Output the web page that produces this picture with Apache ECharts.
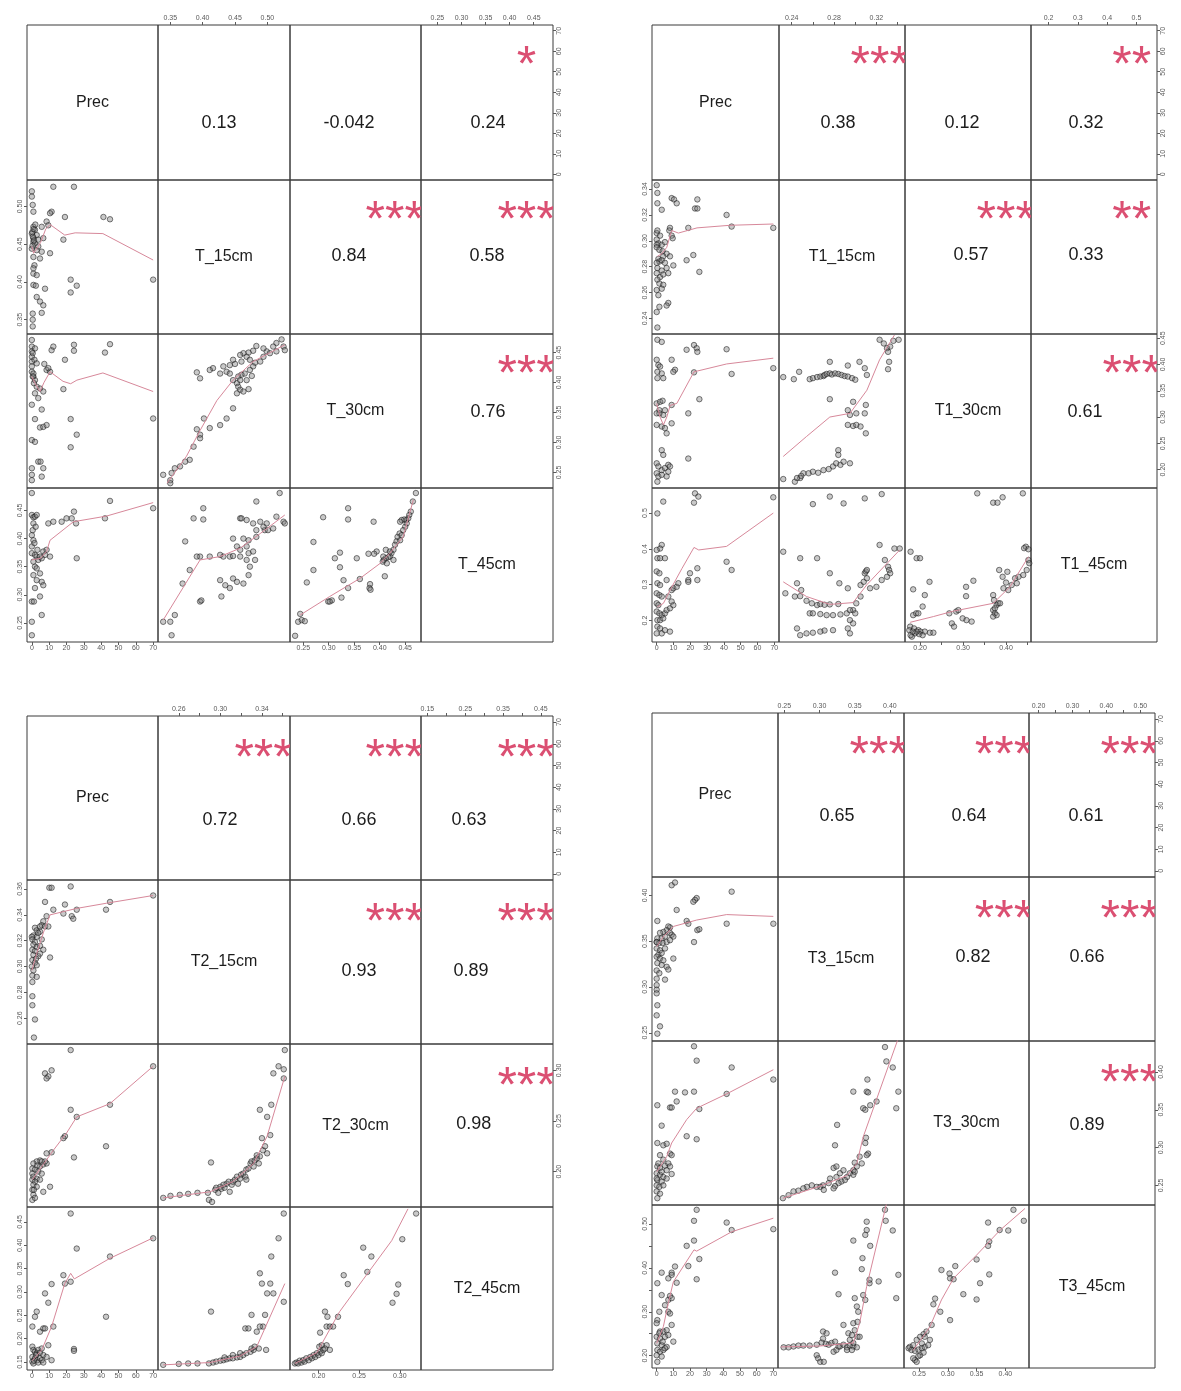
<!DOCTYPE html>
<html>
<head>
<meta charset="utf-8">
<script src="https://cdn.jsdelivr.net/npm/echarts@6/dist/echarts.min.js"></script>
<style>
html,body{margin:0;padding:0;background:#ffffff}
#chart{width:1181px;height:1391px}
</style>
</head>
<body>
<div id="chart"></div>
<script>
// ---------- Panel 1: Prec / T_15cm / T_30cm / T_45cm ----------
const P1_NAMES = ['Prec', 'T_15cm', 'T_30cm', 'T_45cm'];
const P1_RANGE = [[-2.8, 72.8], [0.331, 0.535], [0.224, 0.481], [0.216, 0.490]];
const P1_TICKS = [[0,10,20,30,40,50,60,70], [0.35,0.40,0.45,0.50], [0.25,0.30,0.35,0.40,0.45], [0.25,0.30,0.35,0.40,0.45]];
const P1_HLAB = P1_TICKS;
const P1_VLAB = P1_TICKS;
const P1_DEC = [0, 2, 2, 2];
// upper cells in order (1,2) (1,3) (1,4) (2,3) (2,4) (3,4)
const P1_R = [0.13, -0.042, 0.24, 0.84, 0.58, 0.76];
const P1_STARS = ['', '', '*', '***', '***', '***'];

const P1_21 = [[0,0.520],[0,0.513],[0.5,0.502],[0.9,0.493],[12.4,0.526],[24.3,0.526],[11.4,0.493],[10.5,0.491],[8.5,0.480],[0.9,0.473],[1.8,0.469],[0,0.464],[2.8,0.462],[0.9,0.458],[0.9,0.453],[1.8,0.451],[3.7,0.456],[6.6,0.458],[0,0.444],[2.8,0.442],[5.7,0.440],[0.9,0.433],[4.7,0.431],[10.5,0.438],[19.1,0.486],[18.2,0.456],[41.3,0.486],[45.1,0.483],[0.9,0.411],[2.8,0.409],[0.9,0.396],[2.3,0.395],[7.6,0.391],[2.8,0.380],[4.7,0.374],[6.6,0.369],[5.7,0.359],[0.5,0.358],[0.5,0.350],[0.5,0.341],[22.4,0.403],[25.9,0.395],[22.4,0.386],[70,0.403],[9.5,0.475],[5.7,0.473],[3.7,0.447],[1.5,0.422],[0.9,0.418],[0.3,0.466],[0.6,0.460],[1.2,0.455],[0.4,0.448],[1,0.470],[2,0.476]];
const P1_21_FIT = [[0,0.447],[1,0.438],[3,0.445],[5,0.452],[8,0.470],[10.5,0.476],[19,0.462],[25,0.465],[41,0.464],[70,0.429]];

const P1_31 = [[0,0.471],[0,0.460],[0,0.452],[0,0.443],[0,0.435],[0,0.427],[0,0.418],[0.9,0.410],[1.8,0.457],[0.5,0.449],[1.5,0.438],[2.8,0.432],[7.2,0.431],[8.5,0.421],[10.5,0.418],[11.4,0.454],[12.4,0.460],[24.3,0.463],[24.3,0.453],[42.2,0.450],[45.1,0.464],[19.1,0.438],[18.2,0.389],[70,0.340],[0,0.363],[1.8,0.382],[2.8,0.393],[4.7,0.390],[6.6,0.385],[3.7,0.374],[5.7,0.355],[4.7,0.325],[6.6,0.326],[8.5,0.329],[1.8,0.339],[0,0.304],[1.8,0.301],[22.4,0.339],[25.9,0.313],[22.4,0.292],[3.7,0.268],[5,0.268],[6.6,0.257],[0,0.257],[0,0.246],[0,0.237],[5.7,0.243],[1.8,0.404],[1.2,0.399],[0.5,0.410],[0.9,0.415],[9.5,0.424]];
const P1_31_FIT = [[0,0.410],[2,0.398],[4.7,0.385],[7,0.400],[10.5,0.418],[18,0.402],[22.4,0.398],[26,0.404],[41,0.416],[70,0.385]];

const P1_41 = [[0,0.481],[0,0.442],[0.9,0.438],[1.8,0.439],[2.8,0.442],[0,0.406],[0.9,0.397],[0,0.386],[0,0.374],[1.8,0.371],[2.8,0.368],[3.7,0.362],[5.7,0.365],[7.6,0.371],[10.5,0.368],[0.9,0.359],[1.8,0.350],[2.8,0.347],[4.7,0.338],[0.9,0.335],[2.8,0.326],[5.7,0.323],[6.6,0.317],[1.8,0.312],[4.7,0.297],[0,0.288],[1.2,0.288],[5.7,0.264],[0,0.252],[0,0.228],[9.5,0.427],[12.4,0.430],[17.2,0.430],[20,0.436],[23,0.436],[24.3,0.448],[25.5,0.427],[25.9,0.365],[42.2,0.436],[45.1,0.467],[70,0.454],[1.5,0.392],[3.2,0.380],[6.6,0.377],[8.5,0.380],[4.7,0.368],[0.9,0.427],[0.5,0.415],[2.2,0.421]];
const P1_41_FIT = [[0,0.362],[5,0.365],[8.5,0.377],[10.5,0.397],[24,0.430],[43,0.440],[70,0.464]];

const P1_32 = [[0.522,0.472],[0.514,0.466],[0.525,0.460],[0.527,0.454],[0.509,0.460],[0.499,0.452],[0.494,0.457],[0.483,0.461],[0.478,0.453],[0.471,0.450],[0.463,0.449],[0.458,0.446],[0.468,0.443],[0.473,0.438],[0.481,0.433],[0.489,0.435],[0.478,0.427],[0.473,0.421],[0.465,0.415],[0.460,0.413],[0.455,0.410],[0.450,0.431],[0.442,0.429],[0.432,0.427],[0.437,0.418],[0.427,0.415],[0.416,0.424],[0.411,0.421],[0.396,0.407],[0.391,0.417],[0.453,0.399],[0.455,0.393],[0.458,0.388],[0.463,0.385],[0.453,0.382],[0.471,0.389],[0.447,0.357],[0.437,0.340],[0.427,0.329],[0.411,0.324],[0.402,0.340],[0.391,0.322],[0.396,0.313],[0.396,0.307],[0.386,0.293],[0.380,0.271],[0.373,0.268],[0.365,0.260],[0.357,0.257],[0.352,0.249],[0.350,0.237],[0.339,0.246],[0.350,0.232],[0.468,0.404],[0.476,0.411],[0.442,0.415],[0.447,0.404],[0.458,0.404],[0.460,0.435],[0.447,0.438],[0.494,0.443],[0.504,0.449],[0.514,0.452]];
const P1_32_FIT = [[0.345,0.232],[0.375,0.277],[0.396,0.320],[0.422,0.370],[0.447,0.404],[0.478,0.435],[0.527,0.463]];

const P1_42 = [[0.519,0.481],[0.483,0.466],[0.496,0.415],[0.494,0.421],[0.483,0.415],[0.468,0.433],[0.458,0.436],[0.460,0.436],[0.478,0.427],[0.489,0.430],[0.499,0.427],[0.509,0.418],[0.525,0.430],[0.527,0.427],[0.514,0.439],[0.386,0.436],[0.401,0.454],[0.401,0.434],[0.373,0.395],[0.396,0.368],[0.411,0.368],[0.432,0.368],[0.442,0.368],[0.447,0.369],[0.458,0.380],[0.468,0.386],[0.471,0.397],[0.453,0.386],[0.458,0.368],[0.468,0.362],[0.481,0.362],[0.473,0.350],[0.471,0.335],[0.463,0.320],[0.453,0.323],[0.447,0.329],[0.427,0.326],[0.435,0.317],[0.442,0.312],[0.429,0.297],[0.380,0.344],[0.369,0.320],[0.396,0.288],[0.398,0.290],[0.339,0.252],[0.350,0.252],[0.357,0.264],[0.352,0.228],[0.391,0.368],[0.427,0.371],[0.447,0.400],[0.463,0.400],[0.471,0.374],[0.478,0.377],[0.483,0.403],[0.501,0.415]];
const P1_42_FIT = [[0.339,0.255],[0.396,0.362],[0.427,0.368],[0.458,0.383],[0.489,0.409],[0.527,0.442]];

const P1_43 = [[0.471,0.481],[0.465,0.466],[0.461,0.448],[0.458,0.442],[0.456,0.436],[0.452,0.433],[0.448,0.434],[0.443,0.433],[0.440,0.430],[0.453,0.427],[0.450,0.421],[0.446,0.415],[0.439,0.409],[0.435,0.403],[0.433,0.395],[0.430,0.389],[0.427,0.380],[0.423,0.374],[0.420,0.368],[0.417,0.367],[0.412,0.365],[0.408,0.362],[0.406,0.359],[0.410,0.333],[0.394,0.377],[0.389,0.373],[0.378,0.373],[0.355,0.365],[0.338,0.454],[0.338,0.434],[0.289,0.438],[0.388,0.430],[0.270,0.394],[0.322,0.375],[0.312,0.365],[0.322,0.349],[0.270,0.344],[0.257,0.322],[0.329,0.326],[0.361,0.328],[0.381,0.319],[0.380,0.312],[0.382,0.309],[0.338,0.312],[0.306,0.290],[0.299,0.288],[0.302,0.288],[0.325,0.295],[0.244,0.266],[0.240,0.252],[0.247,0.255],[0.253,0.253],[0.234,0.227],[0.412,0.380],[0.420,0.377],[0.427,0.362],[0.407,0.368],[0.414,0.356],[0.440,0.397],[0.443,0.406]];
const P1_43_FIT = [[0.244,0.264],[0.302,0.297],[0.361,0.329],[0.401,0.356],[0.420,0.374],[0.446,0.403],[0.466,0.469]];

// ---------- Panel 2: Prec / T1_15cm / T1_30cm / T1_45cm ----------
const P2_NAMES = ['Prec', 'T1_15cm', 'T1_30cm', 'T1_45cm'];
const P2_RANGE = [[-2.8, 72.8], [0.228, 0.347], [0.165, 0.458], [0.140, 0.570]];
const P2_TICKS = [[0,10,20,30,40,50,60,70], [0.24,0.26,0.28,0.30,0.32,0.34], [0.20,0.25,0.30,0.35,0.40,0.45], [0.2,0.3,0.4,0.5]];
const P2_HLAB = [[0,10,20,30,40,50,60,70], [0.24,0.28,0.32], [0.20,0.30,0.40], [0.2,0.3,0.4,0.5]];
const P2_VLAB = [[0,10,20,30,40,50,60,70], [0.24,0.26,0.28,0.30,0.32,0.34], [0.20,0.25,0.30,0.35,0.40,0.45], [0.2,0.3,0.4,0.5]];
const P2_DEC = [0, 2, 2, 1];
const P2_R = [0.38, 0.12, 0.32, 0.57, 0.33, 0.61];
const P2_STARS = ['***', '', '**', '***', '**', '***'];

const P2_21 = [[0,0.343],[0.4,0.337],[0.4,0.329],[3.0,0.324],[8.9,0.333],[10.3,0.332],[11.9,0.329],[22.8,0.325],[24.2,0.325],[24.2,0.332],[41.6,0.320],[44.6,0.311],[69.4,0.310],[18.8,0.310],[7.9,0.310],[7.5,0.308],[8.9,0.304],[9.5,0.302],[0,0.306],[2.0,0.304],[0,0.301],[1.0,0.298],[0,0.297],[3.0,0.297],[4.9,0.299],[0,0.295],[1.6,0.293],[3.5,0.292],[5.9,0.290],[3.9,0.288],[1.0,0.286],[1.6,0.284],[3.0,0.285],[0,0.283],[4.9,0.283],[0.4,0.279],[3.0,0.277],[5.9,0.279],[0,0.275],[2.0,0.272],[3.9,0.274],[6.9,0.275],[0.4,0.270],[1.6,0.267],[3.9,0.266],[3.0,0.263],[0,0.262],[1.0,0.258],[6.9,0.252],[5.9,0.250],[1.6,0.249],[0,0.245],[0.4,0.233],[9.9,0.281],[17.8,0.285],[21.8,0.289],[25.4,0.276],[7.9,0.288],[0.4,0.308]];
const P2_21_FIT = [[0.4,0.288],[3,0.290],[6,0.295],[8.9,0.308],[12.9,0.306],[24,0.310],[43.6,0.312],[69.4,0.313]];

const P2_31 = [[0.4,0.447],[3.0,0.443],[0,0.409],[1.0,0.399],[2.0,0.396],[0.4,0.386],[3.0,0.383],[0.4,0.374],[3.9,0.374],[8.9,0.409],[10.9,0.390],[9.9,0.386],[17.8,0.428],[22.2,0.437],[23.8,0.431],[24.2,0.424],[41.6,0.429],[44.6,0.382],[69.4,0.393],[22.2,0.385],[25.4,0.334],[18.8,0.307],[0,0.326],[2.0,0.329],[3.5,0.331],[8.9,0.323],[1.6,0.313],[3.9,0.304],[0,0.285],[3.0,0.282],[4.9,0.279],[5.9,0.269],[8.9,0.288],[3.0,0.237],[3.9,0.228],[18.8,0.221],[0,0.212],[1.0,0.206],[3.0,0.199],[4.9,0.203],[6.9,0.209],[7.9,0.206],[0,0.193],[1.0,0.187],[3.0,0.190],[5.9,0.187],[6.9,0.196],[0.4,0.177],[1.6,0.307],[0,0.307],[4.9,0.313]];
const P2_31_FIT = [[0,0.326],[2,0.300],[4,0.285],[6,0.300],[8,0.322],[12,0.326],[22.2,0.386],[41.6,0.401],[69.4,0.412]];

const P2_41 = [[0.4,0.499],[3.0,0.411],[2.0,0.401],[0,0.397],[0.4,0.374],[2.0,0.374],[4.9,0.374],[0,0.337],[1.6,0.332],[0.4,0.304],[2.0,0.299],[0,0.276],[1.6,0.271],[3.0,0.267],[0,0.248],[1.0,0.243],[0,0.225],[1.6,0.220],[3.0,0.215],[4.9,0.220],[0.4,0.201],[2.0,0.201],[3.9,0.206],[5.9,0.229],[7.9,0.234],[6.9,0.267],[8.9,0.285],[9.9,0.290],[11.9,0.294],[12.9,0.304],[5.9,0.313],[3.9,0.532],[22.8,0.555],[22.2,0.529],[24.8,0.546],[18.8,0.313],[19.8,0.332],[24.2,0.313],[24.2,0.346],[41.6,0.364],[44.6,0.341],[69.4,0.544],[9.9,0.243],[8.9,0.253],[18.8,0.308],[0.4,0.183],[2.0,0.178],[4.9,0.173],[7.9,0.169],[0,0.164],[3.0,0.164]];
const P2_41_FIT = [[0.4,0.238],[4,0.248],[8,0.285],[15,0.345],[22.2,0.404],[25,0.397],[41.6,0.407],[69.4,0.500]];

const P2_32 = [[0.232,0.376],[0.242,0.372],[0.247,0.386],[0.257,0.372],[0.260,0.374],[0.264,0.376],[0.267,0.377],[0.270,0.378],[0.271,0.380],[0.273,0.382],[0.276,0.383],[0.278,0.381],[0.281,0.383],[0.284,0.382],[0.287,0.380],[0.290,0.378],[0.293,0.377],[0.297,0.374],[0.300,0.371],[0.276,0.405],[0.293,0.398],[0.304,0.405],[0.309,0.393],[0.311,0.380],[0.276,0.334],[0.293,0.313],[0.295,0.304],[0.298,0.329],[0.301,0.307],[0.293,0.285],[0.298,0.283],[0.301,0.285],[0.305,0.282],[0.309,0.307],[0.310,0.323],[0.310,0.269],[0.323,0.447],[0.327,0.440],[0.330,0.431],[0.333,0.434],[0.336,0.445],[0.341,0.447],[0.331,0.424],[0.331,0.391],[0.332,0.405],[0.232,0.182],[0.243,0.177],[0.248,0.184],[0.251,0.193],[0.256,0.193],[0.260,0.196],[0.265,0.194],[0.270,0.199],[0.275,0.201],[0.279,0.206],[0.282,0.212],[0.284,0.228],[0.284,0.237],[0.286,0.209],[0.289,0.215],[0.295,0.212],[0.245,0.184],[0.249,0.188]];
const P2_32_FIT = [[0.232,0.225],[0.254,0.263],[0.276,0.300],[0.295,0.307],[0.311,0.351],[0.323,0.409],[0.337,0.456]];

const P2_42 = [[0.232,0.392],[0.260,0.525],[0.276,0.546],[0.289,0.527],[0.309,0.541],[0.325,0.553],[0.248,0.374],[0.264,0.374],[0.276,0.332],[0.285,0.304],[0.293,0.290],[0.305,0.299],[0.308,0.308],[0.311,0.318],[0.309,0.332],[0.310,0.337],[0.311,0.341],[0.323,0.411],[0.328,0.369],[0.331,0.350],[0.332,0.341],[0.333,0.332],[0.330,0.322],[0.325,0.313],[0.337,0.401],[0.342,0.401],[0.249,0.285],[0.245,0.304],[0.248,0.268],[0.234,0.276],[0.243,0.267],[0.254,0.255],[0.259,0.248],[0.264,0.243],[0.267,0.246],[0.271,0.244],[0.276,0.245],[0.284,0.246],[0.257,0.220],[0.260,0.220],[0.267,0.218],[0.273,0.215],[0.279,0.215],[0.286,0.217],[0.292,0.220],[0.298,0.229],[0.300,0.220],[0.295,0.201],[0.298,0.192],[0.293,0.178],[0.295,0.164],[0.279,0.173],[0.271,0.172],[0.267,0.169],[0.260,0.166],[0.254,0.164],[0.248,0.159],[0.245,0.178],[0.305,0.267],[0.314,0.290],[0.320,0.294],[0.301,0.248],[0.295,0.229]];
const P2_42_FIT = [[0.232,0.308],[0.254,0.267],[0.276,0.245],[0.298,0.250],[0.311,0.300],[0.342,0.397]];

const P2_43 = [[0.333,0.555],[0.370,0.529],[0.380,0.529],[0.392,0.544],[0.439,0.555],[0.446,0.406],[0.442,0.402],[0.452,0.399],[0.452,0.369],[0.454,0.360],[0.448,0.341],[0.440,0.327],[0.429,0.322],[0.421,0.318],[0.425,0.304],[0.413,0.299],[0.405,0.285],[0.400,0.306],[0.384,0.341],[0.403,0.336],[0.392,0.322],[0.394,0.290],[0.324,0.311],[0.307,0.294],[0.307,0.268],[0.222,0.308],[0.178,0.392],[0.192,0.374],[0.200,0.374],[0.184,0.287],[0.211,0.271],[0.206,0.239],[0.184,0.215],[0.191,0.220],[0.196,0.220],[0.268,0.220],[0.284,0.225],[0.289,0.229],[0.299,0.206],[0.308,0.201],[0.320,0.197],[0.274,0.192],[0.279,0.183],[0.370,0.271],[0.372,0.257],[0.378,0.243],[0.382,0.248],[0.386,0.248],[0.370,0.229],[0.374,0.220],[0.378,0.215],[0.370,0.211],[0.374,0.234],[0.177,0.183],[0.186,0.178],[0.196,0.173],[0.201,0.169],[0.211,0.169],[0.223,0.166],[0.231,0.166],[0.188,0.164],[0.198,0.162],[0.206,0.159],[0.181,0.155],[0.192,0.169],[0.175,0.173],[0.178,0.159],[0.183,0.169]];
const P2_43_FIT = [[0.177,0.195],[0.231,0.211],[0.277,0.226],[0.370,0.248],[0.409,0.294],[0.452,0.378]];

// ---------- Panel 3: Prec / T2_15cm / T2_30cm / T2_45cm ----------
const P3_NAMES = ['Prec', 'T2_15cm', 'T2_30cm', 'T2_45cm'];
const P3_RANGE = [[-2.8, 72.8], [0.240, 0.367], [0.165, 0.326], [0.133, 0.482]];
const P3_TICKS = [[0,10,20,30,40,50,60,70], [0.26,0.28,0.30,0.32,0.34,0.36], [0.20,0.25,0.30], [0.15,0.20,0.25,0.30,0.35,0.40,0.45]];
const P3_HLAB = [[0,10,20,30,40,50,60,70], [0.26,0.30,0.34], [0.20,0.25,0.30], [0.15,0.25,0.35,0.45]];
const P3_VLAB = [[0,10,20,30,40,50,60,70], [0.26,0.28,0.30,0.32,0.34,0.36], [0.20,0.25,0.30], [0.15,0.20,0.25,0.30,0.35,0.40,0.45]];
const P3_DEC = [0, 2, 2, 2];
const P3_R = [0.72, 0.66, 0.63, 0.93, 0.89, 0.98];
const P3_STARS = ['***', '***', '***', '***', '***', '***'];

const P3_21 = [[10.1,0.361],[11.4,0.361],[22.4,0.362],[7.6,0.350],[19.1,0.348],[12.4,0.344],[18.2,0.341],[23.0,0.339],[23.9,0.337],[25.9,0.344],[42.8,0.344],[45.1,0.350],[70,0.355],[8.5,0.339],[6.6,0.335],[5.7,0.332],[4.7,0.331],[7.6,0.331],[1.8,0.330],[2.8,0.328],[4.7,0.327],[9.5,0.331],[0.9,0.324],[2.8,0.323],[3.7,0.326],[0,0.323],[0.3,0.321],[1.8,0.319],[5.7,0.321],[0.9,0.317],[2.8,0.315],[4.7,0.316],[0.3,0.313],[1.8,0.312],[6.6,0.313],[10.5,0.307],[0.9,0.309],[3.7,0.308],[0.3,0.305],[1.8,0.303],[0,0.300],[2.8,0.301],[0.9,0.297],[0.3,0.293],[2.8,0.292],[0.3,0.288],[0.3,0.277],[0.3,0.270],[1.8,0.259],[1.2,0.245],[4.7,0.310],[2.4,0.306]];
const P3_21_FIT = [[0,0.297],[2.8,0.310],[6.6,0.326],[10.5,0.340],[25.9,0.345],[43,0.349],[70,0.355]];

const P3_31 = [[22.4,0.320],[7.6,0.297],[9.5,0.294],[11.4,0.300],[8.5,0.292],[22.4,0.261],[45.1,0.266],[25.9,0.254],[19.1,0.235],[18.2,0.233],[42.8,0.225],[24.3,0.214],[11.4,0.219],[8.5,0.218],[4.7,0.211],[2.8,0.210],[0.9,0.208],[4.7,0.205],[6.6,0.207],[8.5,0.208],[7.6,0.210],[0.3,0.203],[1.8,0.202],[3.7,0.200],[5.7,0.198],[0.3,0.198],[0.9,0.195],[2.8,0.193],[0.3,0.192],[1.8,0.190],[4.7,0.192],[0.9,0.187],[2.8,0.185],[10.5,0.185],[0.3,0.182],[6.6,0.180],[0.9,0.177],[0.3,0.172],[1.8,0.174],[70,0.304],[5.7,0.210],[3.1,0.206],[1.2,0.182]];
const P3_31_FIT = [[0.3,0.192],[6.6,0.207],[12.4,0.221],[20,0.238],[25.9,0.254],[45,0.267],[70,0.304]];

const P3_41 = [[22.4,0.468],[25.9,0.393],[70,0.415],[45.1,0.376],[18.2,0.336],[19.1,0.318],[22.4,0.322],[7.6,0.297],[9.5,0.277],[11.4,0.317],[42.8,0.247],[0.3,0.226],[1.8,0.247],[2.8,0.258],[4.7,0.215],[6.6,0.222],[7.6,0.222],[12.4,0.226],[9.5,0.186],[11.4,0.154],[24.3,0.178],[24.3,0.174],[0.3,0.183],[0.9,0.176],[1.8,0.172],[2.8,0.169],[3.7,0.176],[4.7,0.170],[5.7,0.179],[6.6,0.165],[0.3,0.161],[1.8,0.158],[3.1,0.154],[4.7,0.158],[0.3,0.151],[0.9,0.147],[3.7,0.149],[5.7,0.154],[8.5,0.161],[6.6,0.149],[2.4,0.165],[1.2,0.153]];
const P3_41_FIT = [[0.3,0.153],[5.7,0.176],[11.4,0.226],[19,0.318],[22.4,0.340],[24.5,0.328],[45,0.372],[70,0.416]];

const P3_32 = [[0.245,0.174],[0.252,0.176],[0.261,0.177],[0.269,0.178],[0.278,0.179],[0.288,0.179],[0.291,0.209],[0.289,0.172],[0.292,0.170],[0.295,0.182],[0.296,0.184],[0.298,0.179],[0.300,0.185],[0.301,0.183],[0.303,0.187],[0.304,0.184],[0.306,0.188],[0.308,0.190],[0.309,0.180],[0.311,0.187],[0.312,0.190],[0.314,0.192],[0.316,0.195],[0.317,0.188],[0.319,0.193],[0.320,0.197],[0.322,0.198],[0.324,0.195],[0.325,0.202],[0.327,0.203],[0.329,0.208],[0.330,0.210],[0.332,0.205],[0.333,0.211],[0.335,0.216],[0.337,0.208],[0.338,0.215],[0.341,0.221],[0.343,0.225],[0.345,0.218],[0.338,0.261],[0.345,0.254],[0.348,0.236],[0.349,0.266],[0.351,0.297],[0.356,0.304],[0.361,0.301],[0.361,0.292],[0.362,0.320],[0.340,0.233],[0.335,0.213],[0.325,0.192]];
const P3_32_FIT = [[0.245,0.174],[0.290,0.180],[0.312,0.190],[0.332,0.208],[0.345,0.235],[0.362,0.294]];

const P3_42 = [[0.245,0.144],[0.260,0.146],[0.269,0.147],[0.278,0.147],[0.289,0.147],[0.291,0.258],[0.293,0.149],[0.296,0.151],[0.300,0.153],[0.303,0.154],[0.306,0.156],[0.309,0.158],[0.312,0.158],[0.316,0.160],[0.319,0.161],[0.322,0.165],[0.325,0.169],[0.329,0.172],[0.332,0.176],[0.324,0.222],[0.327,0.222],[0.330,0.251],[0.330,0.179],[0.333,0.183],[0.337,0.179],[0.338,0.340],[0.340,0.318],[0.341,0.226],[0.343,0.251],[0.344,0.176],[0.345,0.297],[0.348,0.318],[0.349,0.376],[0.351,0.297],[0.356,0.415],[0.361,0.468],[0.361,0.279],[0.335,0.215],[0.338,0.226],[0.319,0.169],[0.312,0.165],[0.304,0.160]];
const P3_42_FIT = [[0.245,0.144],[0.290,0.149],[0.319,0.163],[0.335,0.183],[0.362,0.318]];

const P3_43 = [[0.320,0.468],[0.303,0.413],[0.255,0.395],[0.265,0.376],[0.260,0.343],[0.231,0.336],[0.236,0.317],[0.298,0.316],[0.296,0.296],[0.291,0.277],[0.208,0.258],[0.211,0.247],[0.224,0.247],[0.210,0.226],[0.214,0.226],[0.218,0.226],[0.202,0.213],[0.201,0.183],[0.204,0.186],[0.210,0.186],[0.214,0.176],[0.171,0.147],[0.173,0.149],[0.177,0.153],[0.181,0.154],[0.185,0.158],[0.190,0.161],[0.194,0.165],[0.198,0.169],[0.202,0.172],[0.175,0.147],[0.179,0.149],[0.183,0.151],[0.188,0.154],[0.192,0.158],[0.196,0.161],[0.200,0.165],[0.204,0.169],[0.206,0.176],[0.208,0.179]];
const P3_43_FIT = [[0.171,0.147],[0.198,0.170],[0.226,0.258],[0.255,0.327],[0.290,0.410],[0.310,0.478]];

// ---------- Panel 4: Prec / T3_15cm / T3_30cm / T3_45cm ----------
const P4_NAMES = ['Prec', 'T3_15cm', 'T3_30cm', 'T3_45cm'];
const P4_RANGE = [[-2.8, 72.8], [0.241, 0.420], [0.224, 0.441], [0.172, 0.543]];
const P4_TICKS = [[0,10,20,30,40,50,60,70], [0.25,0.30,0.35,0.40], [0.25,0.30,0.35,0.40], [0.20,0.25,0.30,0.35,0.40,0.45,0.50]];
const P4_HLAB = [[0,10,20,30,40,50,60,70], [0.25,0.30,0.35,0.40], [0.25,0.30,0.35,0.40], [0.20,0.30,0.40,0.50]];
const P4_VLAB = P4_HLAB;
const P4_DEC = [0, 2, 2, 2];
const P4_R = [0.65, 0.64, 0.61, 0.82, 0.66, 0.89];
const P4_STARS = ['***', '***', '***', '***', '***', '***'];

const P4_21 = [[9,0.411],[11,0.414],[24,0.397],[23,0.395],[22,0.393],[45,0.404],[12,0.384],[0.4,0.372],[18,0.372],[19,0.369],[8,0.365],[7,0.366],[6,0.362],[4,0.360],[2,0.359],[0.4,0.353],[3,0.353],[5,0.355],[8,0.359],[9,0.357],[10,0.355],[0,0.349],[1.6,0.348],[3.6,0.348],[6,0.349],[8,0.351],[22.4,0.349],[24.4,0.362],[25.6,0.363],[42,0.369],[70,0.369],[10,0.331],[0,0.342],[2,0.340],[1,0.335],[3,0.337],[0,0.333],[2,0.331],[4,0.329],[0.4,0.326],[3,0.324],[6,0.322],[7,0.319],[0,0.318],[1.6,0.315],[5,0.308],[0,0.309],[0,0.302],[0,0.297],[0,0.293],[0.4,0.280],[0,0.269],[2,0.257],[0.4,0.249],[5,0.342],[0,0.349]];
const P4_21_FIT = [[0,0.344],[4,0.355],[8,0.362],[10,0.366],[18,0.370],[24,0.373],[42,0.379],[70,0.377]];

const P4_31 = [[22.4,0.434],[24,0.415],[45,0.406],[0.4,0.356],[11,0.374],[17,0.373],[22.4,0.374],[42,0.371],[8,0.353],[9,0.353],[12,0.361],[3,0.329],[18,0.315],[24,0.311],[25.6,0.351],[0.4,0.306],[4,0.303],[6,0.305],[8,0.292],[9,0.290],[2,0.290],[4,0.284],[1,0.279],[0.4,0.275],[2,0.273],[5,0.276],[7,0.279],[8,0.275],[9,0.265],[0,0.266],[2,0.264],[4,0.261],[0.4,0.257],[3,0.255],[6,0.259],[0,0.250],[1.6,0.248],[4,0.250],[0,0.242],[2,0.239],[0.4,0.233],[70,0.390],[6,0.270],[3,0.268],[0,0.259]];
const P4_31_FIT = [[0,0.268],[6,0.288],[9,0.306],[18,0.337],[24,0.352],[42,0.371],[70,0.403]];

const P4_41 = [[24,0.532],[22.4,0.507],[42,0.503],[45,0.486],[70,0.488],[22.4,0.462],[18,0.450],[25.6,0.420],[19,0.404],[24,0.374],[11,0.403],[9,0.389],[3,0.389],[7,0.376],[9,0.384],[12,0.366],[0.4,0.365],[3,0.338],[8,0.336],[7,0.327],[9,0.331],[5,0.315],[7,0.300],[8,0.296],[1.6,0.300],[9,0.270],[0.4,0.281],[0,0.274],[2,0.255],[4,0.255],[6,0.258],[0,0.243],[2,0.239],[5,0.243],[7,0.247],[10,0.232],[0.4,0.228],[3,0.224],[6,0.220],[0.4,0.213],[2,0.209],[4,0.213],[0,0.201],[3,0.198],[0.4,0.186],[1.6,0.251],[3.6,0.232],[5,0.217]];
const P4_41_FIT = [[0,0.228],[4,0.266],[7,0.320],[10,0.368],[22.4,0.441],[24,0.438],[45,0.482],[70,0.513]];

const P4_32 = [[0.393,0.433],[0.395,0.414],[0.404,0.406],[0.412,0.374],[0.409,0.352],[0.368,0.390],[0.367,0.374],[0.369,0.373],[0.348,0.374],[0.372,0.356],[0.362,0.352],[0.365,0.350],[0.381,0.361],[0.325,0.330],[0.322,0.303],[0.366,0.313],[0.365,0.306],[0.369,0.292],[0.350,0.280],[0.357,0.288],[0.353,0.275],[0.360,0.279],[0.367,0.290],[0.348,0.270],[0.343,0.266],[0.339,0.261],[0.336,0.257],[0.331,0.255],[0.327,0.253],[0.322,0.249],[0.320,0.246],[0.324,0.261],[0.329,0.266],[0.334,0.270],[0.320,0.273],[0.324,0.275],[0.315,0.259],[0.313,0.253],[0.305,0.250],[0.301,0.248],[0.296,0.248],[0.289,0.250],[0.282,0.248],[0.277,0.246],[0.270,0.243],[0.263,0.242],[0.256,0.237],[0.248,0.233],[0.306,0.244],[0.348,0.264],[0.350,0.268]];
const P4_32_FIT = [[0.248,0.233],[0.301,0.249],[0.339,0.263],[0.353,0.279],[0.362,0.314],[0.412,0.445]];

const P4_42 = [[0.249,0.219],[0.256,0.219],[0.263,0.221],[0.270,0.223],[0.277,0.223],[0.286,0.223],[0.296,0.225],[0.303,0.230],[0.309,0.227],[0.313,0.225],[0.317,0.229],[0.322,0.232],[0.320,0.209],[0.324,0.213],[0.329,0.221],[0.334,0.225],[0.339,0.219],[0.343,0.223],[0.348,0.221],[0.353,0.219],[0.348,0.229],[0.343,0.236],[0.327,0.221],[0.339,0.213],[0.346,0.213],[0.296,0.201],[0.298,0.194],[0.301,0.186],[0.306,0.186],[0.305,0.255],[0.310,0.251],[0.305,0.239],[0.322,0.389],[0.327,0.340],[0.334,0.270],[0.341,0.251],[0.348,0.274],[0.348,0.462],[0.361,0.422],[0.360,0.397],[0.367,0.505],[0.367,0.486],[0.365,0.475],[0.372,0.450],[0.371,0.365],[0.365,0.327],[0.350,0.331],[0.353,0.312],[0.355,0.300],[0.362,0.338],[0.354,0.277],[0.350,0.258],[0.354,0.243],[0.384,0.369],[0.393,0.532],[0.394,0.507],[0.404,0.485],[0.412,0.384],[0.409,0.331],[0.371,0.373],[0.357,0.243],[0.346,0.247]];
const P4_42_FIT = [[0.245,0.220],[0.300,0.222],[0.348,0.229],[0.357,0.274],[0.367,0.358],[0.395,0.545]];

const P4_43 = [[0.414,0.532],[0.432,0.507],[0.370,0.503],[0.390,0.486],[0.405,0.485],[0.372,0.460],[0.370,0.450],[0.350,0.419],[0.289,0.395],[0.303,0.387],[0.313,0.404],[0.304,0.376],[0.310,0.374],[0.356,0.365],[0.372,0.385],[0.327,0.340],[0.350,0.328],[0.278,0.330],[0.275,0.317],[0.287,0.300],[0.304,0.281],[0.272,0.270],[0.263,0.255],[0.258,0.249],[0.252,0.243],[0.246,0.236],[0.240,0.224],[0.234,0.220],[0.232,0.217],[0.237,0.213],[0.243,0.211],[0.249,0.214],[0.255,0.217],[0.260,0.220],[0.266,0.224],[0.269,0.236],[0.252,0.201],[0.258,0.207],[0.243,0.190],[0.249,0.199],[0.246,0.186],[0.240,0.194],[0.255,0.228],[0.260,0.243]];
const P4_43_FIT = [[0.240,0.212],[0.269,0.266],[0.289,0.327],[0.310,0.376],[0.350,0.429],[0.391,0.486],[0.434,0.535]];

// ---------- layout ----------
const LAYOUT = [
  { cols: [27, 158, 290, 421, 553],   rows: [25, 180, 334, 488, 642] },
  { cols: [652, 779, 905, 1031, 1157], rows: [25, 180, 334, 488, 642] },
  { cols: [27, 158, 290, 421, 553],   rows: [716, 880, 1044, 1207, 1370] },
  { cols: [652, 778, 904, 1029, 1155], rows: [713, 877, 1041, 1205, 1368] }
];
// upper-triangle cell order and where each coefficient sits inside its cell
const UPPER = [[0,1],[0,2],[0,3],[1,2],[1,3],[2,3]];
const UPPER_POS = [
  [[0.462,0.632],[0.450,0.632],[0.508,0.632],[0.450,0.494],[0.500,0.494],[0.508,0.506]],
  [[0.468,0.632],[0.452,0.632],[0.437,0.632],[0.524,0.487],[0.437,0.487],[0.429,0.506]],
  [[0.470,0.634],[0.527,0.634],[0.364,0.634],[0.527,0.555],[0.379,0.555],[0.400,0.490]],
  [[0.468,0.628],[0.520,0.628],[0.452,0.628],[0.552,0.488],[0.460,0.488],[0.460,0.512]]
];

const PANELS = [
  { names: P1_NAMES, range: P1_RANGE, ticks: P1_TICKS, hlab: P1_HLAB, vlab: P1_VLAB, dec: P1_DEC, r: P1_R, stars: P1_STARS,
    pts: { '10': P1_21, '20': P1_31, '30': P1_41, '21': P1_32, '31': P1_42, '32': P1_43 },
    fit: { '10': P1_21_FIT, '20': P1_31_FIT, '30': P1_41_FIT, '21': P1_32_FIT, '31': P1_42_FIT, '32': P1_43_FIT } },
  { names: P2_NAMES, range: P2_RANGE, ticks: P2_TICKS, hlab: P2_HLAB, vlab: P2_VLAB, dec: P2_DEC, r: P2_R, stars: P2_STARS,
    pts: { '10': P2_21, '20': P2_31, '30': P2_41, '21': P2_32, '31': P2_42, '32': P2_43 },
    fit: { '10': P2_21_FIT, '20': P2_31_FIT, '30': P2_41_FIT, '21': P2_32_FIT, '31': P2_42_FIT, '32': P2_43_FIT } },
  { names: P3_NAMES, range: P3_RANGE, ticks: P3_TICKS, hlab: P3_HLAB, vlab: P3_VLAB, dec: P3_DEC, r: P3_R, stars: P3_STARS,
    pts: { '10': P3_21, '20': P3_31, '30': P3_41, '21': P3_32, '31': P3_42, '32': P3_43 },
    fit: { '10': P3_21_FIT, '20': P3_31_FIT, '30': P3_41_FIT, '21': P3_32_FIT, '31': P3_42_FIT, '32': P3_43_FIT } },
  { names: P4_NAMES, range: P4_RANGE, ticks: P4_TICKS, hlab: P4_HLAB, vlab: P4_VLAB, dec: P4_DEC, r: P4_R, stars: P4_STARS,
    pts: { '10': P4_21, '20': P4_31, '30': P4_41, '21': P4_32, '31': P4_42, '32': P4_43 },
    fit: { '10': P4_21_FIT, '20': P4_31_FIT, '30': P4_41_FIT, '21': P4_32_FIT, '31': P4_42_FIT, '32': P4_43_FIT } }
];

const FONT = '"Liberation Sans", Arial, Helvetica, sans-serif';
const STAR_COLOR = '#DB4F72';
const FIT_COLOR = '#D7889A';
const TEXT_COLOR = '#1c1c1c';

function makeAxis(P, v, g, position, show, horiz) {
  return {
    type: 'value', gridIndex: g, position: position,
    min: P.range[v][0], max: P.range[v][1],
    splitLine: { show: false },
    axisLine: { show: false, onZero: false },
    axisTick: { show: show, inside: false, length: 3, customValues: P.ticks[v], lineStyle: { color: '#5a5a5a', width: 1 } },
    axisLabel: {
      show: show, customValues: horiz ? P.hlab[v] : P.vlab[v],
      fontSize: 7, color: '#5a5a5a', fontFamily: FONT, margin: 3, rotate: horiz ? 0 : 90,
      formatter: function (val) { return Number(val).toFixed(P.dec[v]); }
    }
  };
}

function textSeries(g, mid, items) {
  return {
    type: 'custom', xAxisIndex: g, yAxisIndex: g, clip: true, silent: true, animation: false,
    data: [mid],
    renderItem: function (params) {
      const cs = params.coordSys;
      return {
        type: 'group',
        children: items.map(function (t) {
          return {
            type: 'text',
            x: cs.x + t.fx * cs.width,
            y: cs.y + t.fy * cs.height + (t.star ? t.size * 0.227 : 0),
            style: { text: t.text, fill: t.color, fontSize: t.size, fontFamily: FONT, align: 'center', verticalAlign: 'middle' }
          };
        })
      };
    }
  };
}

const grid = [], xAxis = [], yAxis = [], series = [];
PANELS.forEach(function (P, pi) {
  const L = LAYOUT[pi];
  for (let i = 0; i < 4; i++) {
    for (let j = 0; j < 4; j++) {
      const g = grid.length;
      grid.push({
        left: L.cols[j], top: L.rows[i],
        width: L.cols[j + 1] - L.cols[j], height: L.rows[i + 1] - L.rows[i],
        show: true, borderColor: '#3a3a3a', borderWidth: 1, backgroundColor: 'transparent'
      });
      const onTop = i === 0 && j % 2 === 1, onBottom = i === 3 && j % 2 === 0;
      const onRight = j === 3 && i % 2 === 0, onLeft = j === 0 && i % 2 === 1;
      xAxis.push(makeAxis(P, j, g, onTop ? 'top' : 'bottom', onTop || onBottom, true));
      yAxis.push(makeAxis(P, i, g, onRight ? 'right' : 'left', onRight || onLeft, false));
      const mid = [(P.range[j][0] + P.range[j][1]) / 2, (P.range[i][0] + P.range[i][1]) / 2];

      if (i === j) {
        series.push(textSeries(g, mid, [{ text: P.names[i], fx: 0.5, fy: 0.5, size: 16, color: TEXT_COLOR }]));
      } else if (i < j) {
        const k = UPPER.findIndex(function (u) { return u[0] === i && u[1] === j; });
        const pos = UPPER_POS[pi][k];
        const items = [{ text: String(P.r[k]), fx: pos[0], fy: pos[1], size: 18, color: TEXT_COLOR }];
        if (P.stars[k]) items.push({ text: P.stars[k], fx: 0.8, fy: 0.2, size: 50, color: STAR_COLOR, star: true });
        series.push(textSeries(g, mid, items));
      } else {
        const key = '' + i + j;
        series.push({
          type: 'scatter', xAxisIndex: g, yAxisIndex: g, data: P.pts[key],
          symbol: 'circle', symbolSize: 5.5, clip: true, silent: true, animation: false,
          itemStyle: { color: 'rgba(120,120,120,0.5)', borderColor: 'rgba(20,20,20,0.85)', borderWidth: 0.8 }
        });
        series.push({
          type: 'line', xAxisIndex: g, yAxisIndex: g, data: P.fit[key],
          showSymbol: false, smooth: false, clip: true, silent: true, animation: false,
          lineStyle: { color: FIT_COLOR, width: 1 }
        });
      }
    }
  }
});

const chart = echarts.init(document.getElementById('chart'), null, { renderer: 'canvas' });
chart.setOption({
  backgroundColor: '#ffffff',
  animation: false,
  grid: grid, xAxis: xAxis, yAxis: yAxis, series: series
});
</script>
</body>
</html>
